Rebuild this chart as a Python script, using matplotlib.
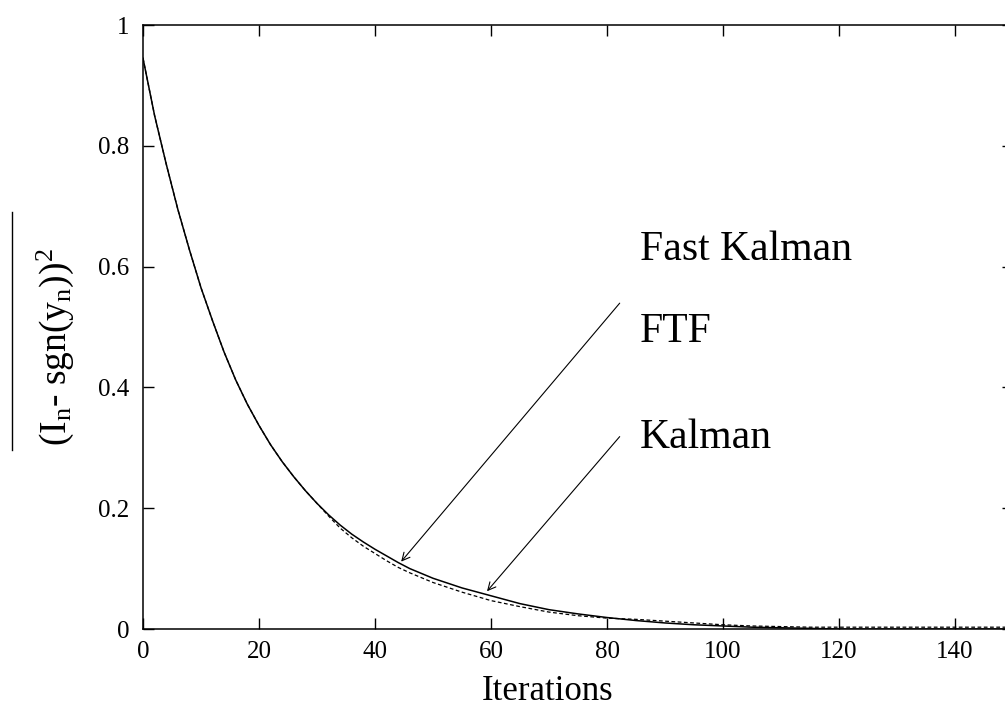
import matplotlib
matplotlib.use("Agg")
import matplotlib.pyplot as plt
from matplotlib.lines import Line2D

# ---- data ----
iters = [0, 2, 4, 6, 8, 10, 12, 14, 16, 18, 20, 22, 24, 26, 28, 30, 32, 34,
         36, 38, 40, 42, 44, 46, 48, 50, 55, 60, 65, 70, 75, 80, 85, 90, 95,
         100, 105, 110, 115, 120, 130, 140, 150]
kalman = [0.945, 0.85, 0.77, 0.695, 0.628, 0.565, 0.51, 0.458, 0.412, 0.372, 0.337,
          0.305, 0.277, 0.252, 0.229, 0.208, 0.189, 0.172, 0.157, 0.144, 0.132, 0.121,
          0.11, 0.10, 0.092, 0.084, 0.068, 0.055, 0.042, 0.032, 0.025, 0.019,
          0.014, 0.010, 0.007, 0.005, 0.003, 0.002, 0.001, 0.0, 0.0, 0.0, 0.0]
ftf = [0.945, 0.85, 0.77, 0.695, 0.628, 0.565, 0.51, 0.458, 0.412, 0.372, 0.337,
       0.305, 0.277, 0.252, 0.229, 0.208, 0.187, 0.167, 0.151, 0.137, 0.125, 0.113,
       0.102, 0.093, 0.085, 0.077, 0.061, 0.047, 0.037, 0.028, 0.022, 0.018,
       0.016, 0.013, 0.010, 0.007, 0.005, 0.004, 0.003, 0.003, 0.003, 0.003, 0.003]
xticks = [0, 20, 40, 60, 80, 100, 120, 140]
yticks = [0, 0.2, 0.4, 0.6, 0.8, 1]
ytick_labels = ["0", "0.2", "0.4", "0.6", "0.8", "1"]

plt.rcParams['font.family'] = ['Liberation Serif', 'DejaVu Serif']
plt.rcParams['mathtext.fontset'] = 'custom'
plt.rcParams['mathtext.rm'] = 'Liberation Serif'
plt.rcParams['mathtext.it'] = 'Liberation Serif:italic'

W, H = 1005, 715
fig = plt.figure(figsize=(W / 100, H / 100), dpi=100)
left, right, top, bottom = 143, 1013, 25, 629
ax = fig.add_axes([left / W, 1 - bottom / H, (right - left) / W, (bottom - top) / H])

ax.plot(iters, kalman, color='black', lw=1.1)
ax.plot(iters, ftf, color='black', lw=0.9, linestyle=(0, (3, 2)))

ax.set_xlim(0, 150)
ax.set_ylim(0, 1)
ax.set_xticks(xticks)
ax.set_yticks(yticks)
ax.set_yticklabels(ytick_labels)
ax.tick_params(direction='in', length=8, width=1.0, labelsize=18,
               top=True, right=True)
ax.tick_params(axis='y', pad=10)
ax.tick_params(axis='x', pad=9)
for s in ax.spines.values():
    s.set_linewidth(1.1)

# annotations
ax.annotate("", xy=(44.2, 0.108), xytext=(82.5, 0.543),
            arrowprops=dict(arrowstyle='->', color='black', lw=0.8, mutation_scale=14))
ax.annotate("", xy=(59.0, 0.059), xytext=(82.5, 0.322),
            arrowprops=dict(arrowstyle='->', color='black', lw=0.8, mutation_scale=14))

fig.text(640 / W, 1 - 260 / H, "Fast Kalman", fontsize=30, ha='left', va='baseline')
fig.text(640 / W, 1 - 342 / H, "FTF", fontsize=30, ha='left', va='baseline')
fig.text(640 / W, 1 - 448 / H, "Kalman", fontsize=30, ha='left', va='baseline')

fig.text(548 / W, 1 - 700 / H, "Iterations", fontsize=25, ha='center', va='baseline')

fig.text(55 / W, 1 - 347 / H, r"(I$_{\rm n}$- sgn(y$_{\rm n}$))$^{2}$",
         fontsize=27, rotation=90, ha='center', va='center')
fig.add_artist(Line2D([12 / W, 12 / W], [1 - 212 / H, 1 - 450 / H],
                      transform=fig.transFigure, color='black', lw=1.0))

fig.savefig("out.png", dpi=100)
